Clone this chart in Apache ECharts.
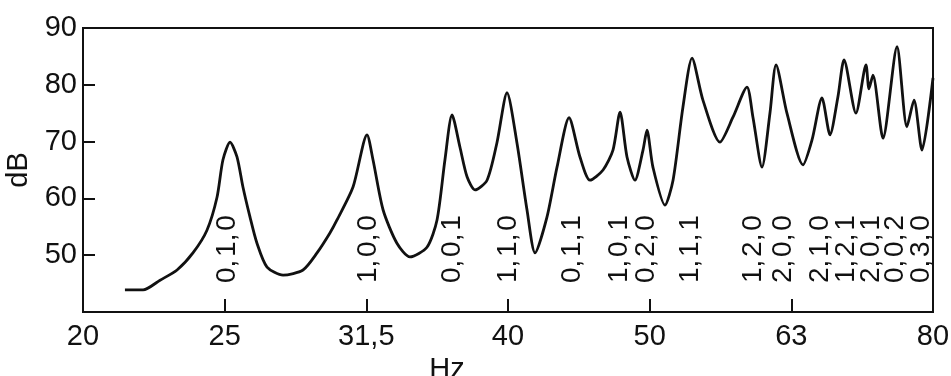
<!DOCTYPE html>
<html>
<head>
<meta charset="utf-8">
<script src="https://cdn.jsdelivr.net/npm/echarts@6/dist/echarts.min.js"></script>
<style>
  html, body { margin: 0; padding: 0; background: #fff; }
  #chart { width: 951px; height: 376px; }
</style>
</head>
<body>
<div id="chart"></div>
<script>
// third-octave band labels, equally spaced on the x axis (band index 0..6)
const xLabels = ['20', '25', '31,5', '40', '50', '63', '80'];

// measured curve: x in band units, y in dB
const curveX = [0.296, 0.424, 0.544, 0.664, 0.776, 0.875, 0.946, 0.988, 1.038, 1.087,
  1.129, 1.179, 1.228, 1.299, 1.412, 1.553, 1.652, 1.743, 1.793, 1.906,
  2.005, 2.047, 2.118, 2.216, 2.308, 2.428, 2.499, 2.555, 2.605, 2.661,
  2.711, 2.767, 2.852, 2.922, 2.993, 3.063, 3.134, 3.191, 3.275, 3.346,
  3.431, 3.508, 3.579, 3.671, 3.741, 3.791, 3.840, 3.896, 3.953, 3.981,
  4.023, 4.108, 4.165, 4.235, 4.299, 4.376, 4.496, 4.588, 4.687, 4.729,
  4.793, 4.849, 4.892, 4.969, 5.082, 5.146, 5.216, 5.273, 5.329, 5.372,
  5.456, 5.527, 5.548, 5.576, 5.647, 5.746, 5.816, 5.866, 5.922, 6.000];
const curveDb = [43.9, 43.9, 45.6, 47.4, 50.4, 54.4, 60.2, 66.8, 69.9, 67.3,
  62.0, 56.7, 52.1, 47.9, 46.5, 47.4, 50.4, 53.9, 56.2, 62.0,
  71.2, 66.8, 58.0, 52.1, 49.7, 51.4, 56.2, 66.8, 74.7, 69.0,
  63.8, 61.5, 63.2, 69.8, 78.6, 69.8, 58.0, 50.4, 56.7, 65.5,
  74.2, 67.3, 63.2, 65.0, 68.5, 75.2, 67.3, 63.2, 68.5, 72.0,
  65.5, 58.8, 63.2, 76.1, 84.7, 77.3, 69.9, 74.3, 79.6, 74.3,
  65.5, 75.0, 83.5, 75.0, 65.9, 70.3, 77.7, 71.2, 77.9, 84.4,
  75.0, 83.5, 79.3, 81.7, 70.6, 86.7, 72.6, 77.3, 68.5, 81.2];

// room mode labels (n_x, n_y, n_z) and where they sit on the x axis
const modeNames = ['0, 1, 0', '1, 0, 0', '0, 0, 1', '1, 1, 0', '0, 1, 1', '1, 0, 1', '0, 2, 0',
  '1, 1, 1', '1, 2, 0', '2, 0, 0', '2, 1, 0', '1, 2, 1', '2, 0, 1', '0, 0, 2', '0, 3, 0'];
const modeX = [1.016, 2.012, 2.605, 3.0, 3.452, 3.783, 3.974,
  4.285, 4.729, 4.941, 5.202, 5.386, 5.562, 5.732, 5.915];
const modeBaseDb = 45.1;

const chart = echarts.init(document.getElementById('chart'));

const axisFont = { color: '#111', fontSize: 29, fontFamily: 'Liberation Sans' };

const option = {
  backgroundColor: '#fff',
  animation: false,
  grid: {
    left: 83,
    right: 18,
    top: 28,
    bottom: 64,
    containLabel: false,
    outerBoundsMode: 'none',
    show: true,
    borderColor: '#111',
    borderWidth: 2
  },
  xAxis: {
    type: 'value',
    min: 0,
    max: 6,
    interval: 1,
    name: 'Hz',
    nameLocation: 'middle',
    nameGap: 42,
    nameTextStyle: Object.assign({ padding: [0, 122, 0, 0] }, axisFont),
    axisLine: { lineStyle: { color: '#111', width: 2 } },
    axisTick: { inside: true, length: 13, lineStyle: { color: '#111', width: 2 } },
    splitLine: { show: false },
    axisLabel: Object.assign({
      margin: 10,
      formatter: function (v) { return xLabels[v]; }
    }, axisFont)
  },
  yAxis: {
    type: 'value',
    min: 40,
    max: 90,
    interval: 10,
    name: 'dB',
    nameLocation: 'middle',
    nameGap: 46,
    nameTextStyle: axisFont,
    axisLine: { show: true, lineStyle: { color: '#111', width: 2 } },
    axisTick: { show: true, inside: true, length: 12, lineStyle: { color: '#111', width: 2 } },
    splitLine: { show: false },
    axisLabel: Object.assign({ margin: 6, showMinLabel: false }, axisFont)
  },
  series: [
    {
      type: 'line',
      data: curveX.map(function (x, i) { return [x, curveDb[i]]; }),
      showSymbol: false,
      smooth: 0.25,
      lineStyle: { color: '#111', width: 2.8 }
    },
    {
      type: 'scatter',
      symbolSize: 0,
      itemStyle: { opacity: 1 },
      data: modeX.map(function (x, i) { return { name: modeNames[i], value: [x, modeBaseDb] }; }),
      label: {
        show: true,
        position: 'inside',
        rotate: 90,
        align: 'left',
        verticalAlign: 'middle',
        // spaces set narrow so the labels stay as compact as in the original
        formatter: function (p) { return p.name.split(' ').join('{s| }'); },
        rich: { s: { fontSize: 10 } },
        color: '#111',
        fontSize: 28,
        fontFamily: 'Liberation Sans'
      },
      silent: true
    }
  ]
};

chart.setOption(option);
</script>
</body>
</html>
